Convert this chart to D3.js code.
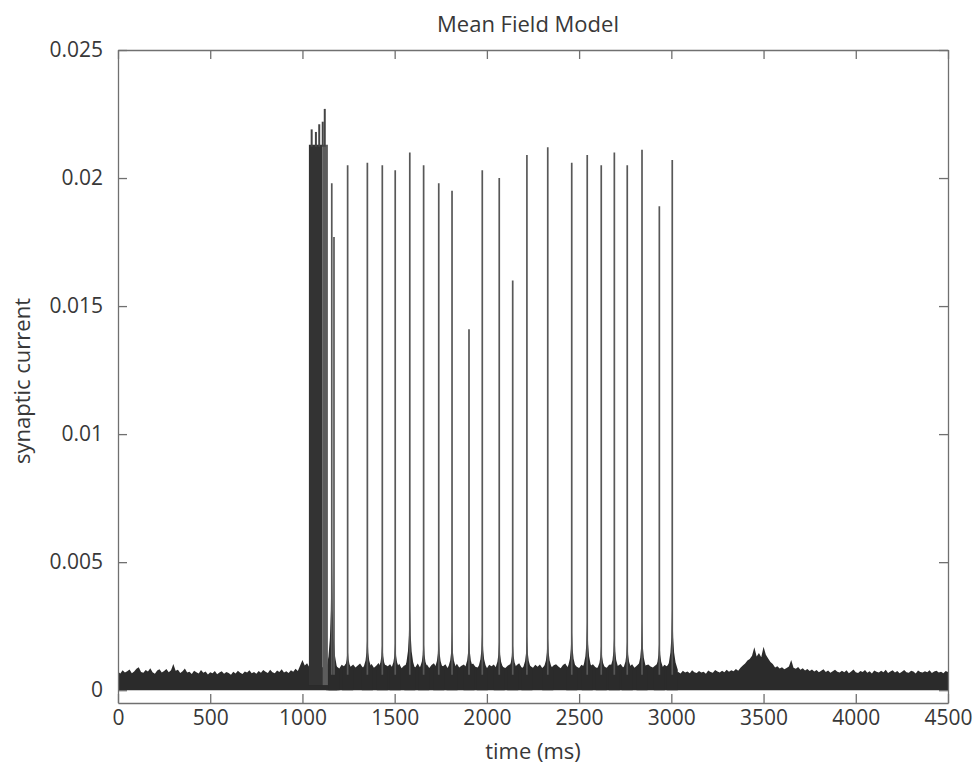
<!DOCTYPE html>
<html>
<head>
<meta charset="utf-8">
<script src="https://cdn.jsdelivr.net/npm/d3@7"></script>
<style>
  html, body { margin: 0; padding: 0; background: #ffffff; }
  svg { display: block; }
  text { font-family: "Open Sans", sans-serif; fill: #383838; }
</style>
</head>
<body>
<svg id="chart" width="974" height="766"></svg>
<script>
// ---------------- DATA ----------------
const titleText = "Mean Field Model";
const xLabelText = "time (ms)";
const yLabelText = "synaptic current";

const xTicks = [0, 500, 1000, 1500, 2000, 2500, 3000, 3500, 4000, 4500];
const xTickLabels = ["0", "500", "1000", "1500", "2000", "2500", "3000", "3500", "4000", "4500"];
const yTicks = [0, 0.005, 0.01, 0.015, 0.02, 0.025];
const yTickLabels = ["0", "0.005", "0.01", "0.015", "0.02", "0.025"];

// Upper envelope of the dense background noise band, sampled every 12.5 ms (units of 1e-4)
const noiseStepMs = 12.5;
const noisePre = [ // 0 .. 987.5 ms
  7.2, 6.5, 7.8, 6.9, 7.4, 8.1, 6.6, 7.3, 8.4, 9.0,
  7.1, 6.8, 7.9, 7.3, 8.6, 7.0, 6.4, 7.7, 8.2, 6.9,
  7.5, 8.3, 7.0, 7.8, 10.2, 7.6, 8.0, 6.7, 7.4, 8.5,
  6.9, 7.2, 6.3, 7.6, 7.0, 6.5, 7.9, 6.8, 7.3, 6.1,
  7.0, 6.6, 7.5, 6.2, 6.9, 7.4, 6.4, 7.1, 6.7, 6.0,
  7.2, 6.5, 7.6, 6.8, 6.3, 7.3, 6.9, 7.8, 6.6, 7.1,
  6.4, 7.5, 6.8, 7.9, 7.2, 6.7, 8.0, 7.0, 6.6, 7.7,
  7.1, 8.2, 6.9, 7.4, 6.7, 7.8, 7.2, 8.4, 7.5, 9.6
];
const noiseOnset = [ // 1000 .. 1137.5 ms
  11.8, 9.6, 10.5, 9.0, 9.0, 9.0, 9.0, 9.0, 9.0, 9.0, 9.0, 9.0
];
const noiseStim = [ // 1150 .. 3000 ms
  9.6, 8.8, 10.1, 9.2, 8.5, 9.9, 9.4, 10.5, 8.7, 9.3,
  10.0, 8.9, 9.6, 10.4, 9.1, 8.6, 9.8, 9.3, 10.2, 8.8,
  9.5, 10.6, 9.0, 8.7, 9.9, 9.4, 10.1, 8.9, 9.7, 9.2,
  10.3, 8.6, 9.5, 9.9, 8.8, 10.2, 9.3, 9.0, 10.4, 8.9,
  9.6, 9.1, 10.0, 8.7, 9.8, 10.5, 9.2, 8.8, 9.7, 9.4,
  10.1, 8.6, 9.3, 9.9, 9.0, 10.3, 8.9, 9.5, 10.0, 9.1,
  8.7, 9.8, 10.4, 9.2, 8.9, 9.6, 10.2, 9.0, 8.6, 9.9,
  9.4, 10.0, 8.8, 9.7, 10.3, 9.1, 8.7, 9.5, 10.1, 9.3,
  8.9, 9.8, 10.5, 9.0, 8.6, 9.6, 10.2, 9.4, 8.8, 9.9,
  9.2, 10.0, 8.7, 9.5, 10.3, 9.1, 8.9, 9.7, 10.1, 9.3,
  8.6, 9.8, 10.4, 9.0, 8.8, 9.6, 10.0, 9.2, 8.7, 9.9,
  9.4, 10.2, 8.9, 9.5, 10.1, 9.1, 8.6, 9.7, 10.3, 9.2,
  8.8, 9.9, 10.0, 9.3, 8.7, 9.6, 10.2, 9.0, 8.9, 9.8,
  9.4, 10.1, 8.8, 9.5, 10.4, 9.1, 8.7, 9.7, 10.0, 9.3,
  8.9, 9.6, 10.2, 9.2, 8.8, 9.9, 9.4, 10.3, 9.6
];
const noisePost = [ // 3012.5 .. 4500 ms
  7.4, 6.8, 7.1, 6.5, 7.6, 6.9, 7.3, 6.6, 7.8, 7.0,
  6.7, 7.5, 6.9, 7.2, 6.4, 7.7, 7.1, 6.8, 7.9, 7.3,
  6.9, 7.6, 7.0, 8.0, 7.2, 7.8, 7.4, 8.3, 7.6, 8.8,
  9.6, 10.4, 11.6, 12.2, 13.5, 16.8, 13.2, 14.5, 12.9, 17.0,
  13.8, 12.4, 11.0, 10.2, 8.9, 9.4, 8.5, 9.0, 8.2, 8.7,
  9.3, 11.8, 8.8, 8.4, 9.1, 8.0, 8.6, 7.7, 8.3, 7.5,
  8.1, 7.3, 7.9, 7.0, 7.6, 8.2, 7.1, 7.7, 6.8, 7.4,
  8.0, 7.2, 6.9, 7.6, 7.0, 7.8, 6.6, 7.3, 8.1, 7.0,
  6.7, 7.5, 7.1, 7.9, 6.8, 7.4, 6.5, 7.7, 7.2, 6.9,
  7.6, 7.0, 8.0, 6.7, 7.3, 7.8, 6.9, 7.5, 6.6, 7.2,
  7.9, 7.0, 6.8, 7.6, 7.3, 6.5, 7.7, 7.1, 6.9, 7.4,
  7.0, 7.8, 6.7, 7.3, 7.6, 6.9, 7.2, 6.6, 7.5, 7.1
];

// Initial burst (dense oscillation block)
const burstDenseSpan = [1035, 1108];
const burstLightSpan = [1108, 1138];
const burstTop = 0.0213;
const burstPeakTimes = [1050, 1073, 1091, 1110, 1121];
const burstPeakValues = [0.0219, 0.0218, 0.0221, 0.0222, 0.0227];

// Isolated population spikes
const spikeTimes = [1159, 1171, 1245, 1352, 1433, 1503, 1582, 1657, 1739, 1811, 1903, 1975,
                    2067, 2140, 2217, 2330, 2460, 2544, 2620, 2691, 2761, 2841, 2935, 3005];
const spikePeaks = [0.0198, 0.0177, 0.0205, 0.0206, 0.0205, 0.0203, 0.0210, 0.0205, 0.0198, 0.0195, 0.0141, 0.0203,
                    0.0200, 0.0160, 0.0209, 0.0212, 0.0206, 0.0209, 0.0205, 0.0210, 0.0205, 0.0211, 0.0189, 0.0207];
// height of the dark base ("skirt") around each spike
const spikeBases = [0.0060, 0.0012, 0.0017, 0.0023, 0.0020, 0.0020, 0.0038, 0.0021, 0.0022, 0.0023, 0.0023, 0.0025,
                    0.0021, 0.0020, 0.0022, 0.0023, 0.0026, 0.0030, 0.0019, 0.0024, 0.0021, 0.0027, 0.0021, 0.0036];

// ---------------- LAYOUT ----------------
const plot = { left: 118, right: 948, top: 50, bottom: 703 };
const colBand = "#2b2b2b";

const svg = d3.select("#chart");
const x = d3.scaleLinear().domain([0, 4500]).range([plot.left, plot.right]);
const y = d3.scaleLinear().domain([-0.0005, 0.025]).range([plot.bottom, plot.top]);

const g = svg.append("g");
svg.append("defs").append("clipPath").attr("id", "plotclip")
  .append("rect").attr("x", plot.left).attr("y", plot.top)
  .attr("width", plot.right - plot.left).attr("height", plot.bottom - plot.top);
const dataG = g.append("g").attr("clip-path", "url(#plotclip)");

// noise band
const noiseTopE4 = [].concat(noisePre, noiseOnset, noiseStim, noisePost);
const noisePts = noiseTopE4.map((v, i) => ({ t: i * noiseStepMs, top: v * 1e-4 }));
dataG.append("path")
  .datum(noisePts)
  .attr("fill", colBand)
  .attr("d", d3.area().x(d => x(d.t)).y0(y(0)).y1(d => y(d.top)).curve(d3.curveLinear));

// spike skirts (dark bases) - glyph shape relative to each spike
const skirtOffsets = [-30, -18, -10, -5, -2, 0, 2, 5, 10, 18, 30];
const skirtShape   = [0, 0.1, 0.24, 0.45, 0.75, 1, 0.75, 0.45, 0.24, 0.1, 0];
const skirtFloor = 0.0008;
const skirtArea = d3.area().x(d => x(d.t)).y0(y(0)).y1(d => y(d.v));
dataG.selectAll("path.skirt")
  .data(spikeTimes.map((t, i) => ({ t, base: spikeBases[i] })))
  .join("path")
  .attr("class", "skirt")
  .attr("fill", colBand)
  .attr("d", d => skirtArea(skirtOffsets.map((o, k) => ({
    t: d.t + o, v: skirtFloor + (d.base - skirtFloor) * skirtShape[k]
  }))));

// burst block
dataG.append("rect")
  .attr("x", x(burstLightSpan[0])).attr("width", x(burstLightSpan[1]) - x(burstLightSpan[0]))
  .attr("y", y(burstTop)).attr("height", y(0.0002) - y(burstTop))
  .attr("fill", "#5c5c5c");
dataG.append("rect")
  .attr("x", x(burstDenseSpan[0])).attr("width", x(burstDenseSpan[1]) - x(burstDenseSpan[0]))
  .attr("y", y(burstTop)).attr("height", y(0.0002) - y(burstTop))
  .attr("fill", "#333333");
dataG.selectAll("line.burstpk")
  .data(burstPeakTimes.map((t, i) => ({ t, v: burstPeakValues[i] })))
  .join("line")
  .attr("class", "burstpk")
  .attr("x1", d => x(d.t)).attr("x2", d => x(d.t))
  .attr("y1", y(burstTop) + 2).attr("y2", d => y(d.v))
  .attr("stroke", "#444").attr("stroke-width", 2);

// spikes
dataG.selectAll("line.spike")
  .data(spikeTimes.map((t, i) => ({ t, v: spikePeaks[i] })))
  .join("line")
  .attr("class", "spike")
  .attr("x1", d => x(d.t)).attr("x2", d => x(d.t))
  .attr("y1", y(0.0006)).attr("y2", d => y(d.v))
  .attr("stroke", "#585858").attr("stroke-width", 1.7);

// ---------------- AXES ----------------
const axisColor = "#707070";
const tickLen = 9;
function styleAxis(sel) {
  sel.selectAll("path.domain").attr("stroke", axisColor).attr("stroke-width", 1.3);
  sel.selectAll(".tick line").attr("stroke", axisColor).attr("stroke-width", 1.3);
  sel.selectAll(".tick text").attr("fill", "#383838").style("font-family", '"Open Sans", sans-serif');
}
const xAxis = g.append("g").attr("transform", `translate(0,${plot.bottom})`)
  .call(d3.axisBottom(x).tickValues(xTicks).tickFormat((d, i) => xTickLabels[i])
    .tickSize(-tickLen).tickSizeOuter(0).tickPadding(7.5));
xAxis.attr("font-size", 21);
styleAxis(xAxis);

const xAxisTop = g.append("g").attr("transform", `translate(0,${plot.top})`)
  .call(d3.axisTop(x).tickValues(xTicks).tickFormat("").tickSize(-tickLen).tickSizeOuter(0));
styleAxis(xAxisTop);

const yAxis = g.append("g").attr("transform", `translate(${plot.left},0)`)
  .call(d3.axisLeft(y).tickValues(yTicks).tickFormat((d, i) => yTickLabels[i])
    .tickSize(-tickLen).tickSizeOuter(0).tickPadding(15));
yAxis.attr("font-size", 21);
styleAxis(yAxis);

const yAxisRight = g.append("g").attr("transform", `translate(${plot.right},0)`)
  .call(d3.axisRight(y).tickValues(yTicks).tickFormat("").tickSize(-tickLen).tickSizeOuter(0));
styleAxis(yAxisRight);

// ---------------- TEXT ----------------
const cx = (plot.left + plot.right) / 2;
svg.append("text").attr("x", cx - 5).attr("y", 32)
  .attr("text-anchor", "middle").attr("font-size", 22).text(titleText);
svg.append("text").attr("x", cx).attr("y", 759)
  .attr("text-anchor", "middle").attr("font-size", 22).text(xLabelText);
svg.append("text").attr("transform", "translate(30,381) rotate(-90)")
  .attr("text-anchor", "middle").attr("font-size", 22).text(yLabelText);
</script>
</body>
</html>
